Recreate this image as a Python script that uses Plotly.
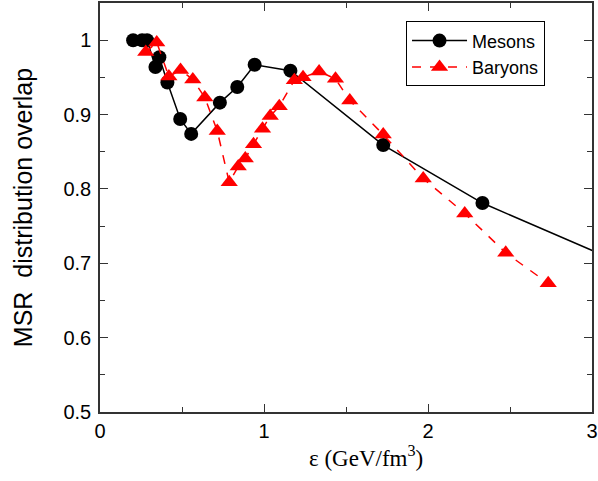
import plotly.graph_objects as go

meson_x = [0.202, 0.257, 0.287, 0.338, 0.362, 0.411, 0.489, 0.556, 0.731, 0.837, 0.943, 1.161, 1.727, 2.332, 3.35]
meson_y = [1.000, 1.000, 1.000, 0.964, 0.977, 0.943, 0.894, 0.874, 0.916, 0.937, 0.967, 0.959, 0.859, 0.781, 0.684]

baryon_x = [0.279, 0.346, 0.420, 0.491, 0.566, 0.639, 0.715, 0.788, 0.843, 0.886, 0.936, 0.991, 1.038, 1.093,
            1.185, 1.238, 1.336, 1.436, 1.523, 1.727, 1.971, 2.224, 2.474, 2.733]
baryon_y = [0.984, 0.997, 0.951, 0.960, 0.947, 0.923, 0.878, 0.809, 0.830, 0.841, 0.860, 0.881, 0.898, 0.911,
            0.946, 0.950, 0.958, 0.948, 0.919, 0.873, 0.814, 0.767, 0.714, 0.673]

x_ticks = [0, 1, 2, 3]
y_ticks = [0.5, 0.6, 0.7, 0.8, 0.9, 1.0]
y_tick_labels = ["0.5", "0.6", "0.7", "0.8", "0.9", "1"]
x_title = "ε (GeV/fm<sup>3</sup>)"
y_title = "MSR  distribution overlap"

fig = go.Figure()
fig.add_trace(go.Scatter(
    x=meson_x, y=meson_y, mode="lines+markers", name="Mesons",
    line=dict(color="black", width=1.5),
    marker=dict(symbol="circle", size=14, color="black"),
))
fig.add_trace(go.Scatter(
    x=baryon_x, y=baryon_y, mode="lines+markers", name="Baryons",
    line=dict(color="#ff0000", width=1.5, dash="dash"),
    marker=dict(symbol="triangle-up", size=15, color="#ff0000"),
))

axis_common = dict(
    showline=True, linecolor="#333333", linewidth=1.5, mirror="ticks",
    ticks="inside", ticklen=8, tickwidth=1.2, tickcolor="#333333",
    showgrid=False, zeroline=False, automargin=False,
    tickfont=dict(family="Liberation Sans, Arial, sans-serif", size=20, color="black"),
)

fig.update_xaxes(
    range=[0, 3], tickvals=x_ticks, ticktext=[str(v) for v in x_ticks],
    minor=dict(dtick=0.5, ticks="inside", ticklen=5, tickcolor="#333333", showgrid=False),
    **axis_common,
)
fig.update_yaxes(
    range=[0.5, 1.05], tickvals=y_ticks, ticktext=y_tick_labels,
    ticklabelstandoff=3,
    minor=dict(dtick=0.05, ticks="inside", ticklen=5, tickcolor="#333333", showgrid=False),
    title=dict(text=y_title,
               font=dict(family="Liberation Sans, Arial, sans-serif", size=25, color="black"),
               standoff=24),
    **axis_common,
)

fig.add_annotation(
    text=x_title, xref="paper", yref="paper", x=0.54, y=-0.11,
    xanchor="center", yanchor="middle", showarrow=False,
    font=dict(family="Liberation Serif, Times New Roman, serif", size=23, color="black"),
)

fig.update_layout(
    width=598, height=481,
    margin=dict(l=100, r=6, t=3, b=69),
    paper_bgcolor="white", plot_bgcolor="white",
    showlegend=True,
    legend=dict(
        x=0.622, y=0.955, xanchor="left", yanchor="top",
        bgcolor="white", bordercolor="black", borderwidth=1,
        font=dict(family="Liberation Sans, Arial, sans-serif", size=18, color="black"),
        itemwidth=55, tracegroupgap=0,
    ),
)

fig.write_html("out.html", config={"displayModeBar": False},
               post_script="document.body.style.margin='0';document.body.style.overflow='hidden';")
